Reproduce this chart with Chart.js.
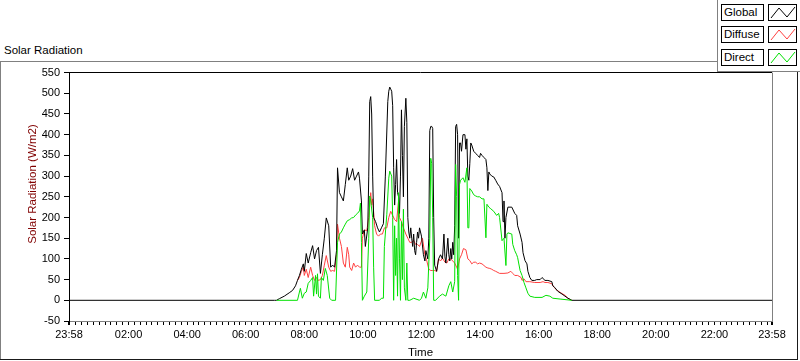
<!DOCTYPE html>
<html>
<head>
<meta charset="utf-8">
<script src="https://cdn.jsdelivr.net/npm/chart.js@4.4.1/dist/chart.umd.min.js"></script>
<style>
html,body{margin:0;padding:0;background:#fff;width:800px;height:361px;overflow:hidden;font-family:"Liberation Sans",Arial,sans-serif;}
#wrap{position:absolute;left:0;top:62px;width:800px;height:298px;z-index:1;}
.ln{position:absolute;z-index:2;}
#panel{position:absolute;left:717px;top:0;width:83px;height:72px;background:#fff;border-left:1px solid #808080;border-bottom:1px solid #808080;box-sizing:border-box;z-index:3;}
.lbl{position:absolute;left:721px;width:43px;height:17px;border:1px solid #000;box-sizing:border-box;font-size:11.5px;line-height:15px;padding-left:2px;color:#000;z-index:4;background:#fff;}
.ico{position:absolute;left:768px;width:29px;height:17px;border:1px solid #000;box-sizing:border-box;z-index:4;background:#fff;}
.ico svg{position:absolute;left:0;top:0;}
#title{position:absolute;left:4px;top:43px;font-size:11.5px;line-height:14px;color:#000;z-index:2;}
#ytitle{position:absolute;left:-68.5px;top:176.5px;width:200px;height:14px;line-height:14px;text-align:center;font-size:11.5px;color:#800000;transform:rotate(-90deg);transform-origin:100px 7px;z-index:2;}
</style>
</head>
<body>
<div id="title">Solar Radiation</div>
<div class="ln" style="left:0;top:61px;width:717px;height:1px;background:#808080;"></div>
<div class="ln" style="left:0;top:61px;width:1px;height:298px;background:#808080;"></div>
<div class="ln" style="left:0;top:359px;width:798px;height:1px;background:#1a1a1a;"></div>
<div class="ln" style="left:797px;top:72px;width:1px;height:288px;background:#1a1a1a;"></div>
<div id="panel"></div>
<div class="lbl" style="top:4px;">Global</div>
<div class="ico" style="top:4px;"><svg width="27" height="15"><polyline points="2,13 10,3 18,12 26,2" fill="none" stroke="#000" stroke-width="1"/></svg></div>
<div class="lbl" style="top:26px;">Diffuse</div>
<div class="ico" style="top:26px;"><svg width="27" height="15"><polyline points="2,13 10,3 18,12 26,2" fill="none" stroke="#ff4040" stroke-width="1"/></svg></div>
<div class="lbl" style="top:49px;">Direct</div>
<div class="ico" style="top:49px;"><svg width="27" height="15"><polyline points="2,13 10,3 18,12 26,2" fill="none" stroke="#00e000" stroke-width="1"/></svg></div>
<div id="ytitle">Solar Radiation (W/m2)</div>
<div id="wrap"><canvas id="c" width="800" height="298"></canvas></div>
<script>
// ---- data (time in minutes of the day, values in W/m2) ----
const globalTimes = [
-2,419,423,429,439,449,456,462,466,470,
474,478,480,484,488,493,497,501,505,509,
513,517,521,525,530,534,538,542,546,548,
552,556,560,564,568,571,575,579,583,587,
591,593,597,599,603,605,610,612,614,616,
618,620,622,626,630,634,638,642,646,651,
653,655,657,659,661,663,665,667,669,671,
673,675,677,679,681,683,685,688,690,692,
694,696,698,700,702,704,706,708,710,712,
714,716,720,724,727,729,733,735,737,739,
741,743,745,747,751,755,759,763,766,768,
770,774,776,778,780,782,784,786,788,790,
792,794,796,798,800,802,805,809,811,813,
815,817,819,821,823,827,831,835,839,841,
844,848,852,854,856,858,860,864,868,872,
876,880,885,887,889,891,893,897,905,911,
915,917,922,926,928,932,936,938,942,946,
952,956,963,967,973,979,987,989,993,999,
1008,1014,1020,1028,1438];
const globalValues = [
0,0,0,4,10,18,24,35,48,60,
75,88,70,113,90,115,132,100,120,128,
65,110,150,199,180,80,85,80,120,320,
260,250,240,280,320,290,300,318,290,300,
310,295,240,160,170,130,175,300,480,492,
450,300,200,190,175,165,175,185,300,480,
505,515,510,505,470,320,230,280,340,260,
250,210,300,460,350,250,420,488,430,200,
165,150,175,150,130,160,120,110,140,165,
150,175,155,110,95,120,100,150,410,420,
420,415,200,85,70,100,110,100,160,105,
90,150,110,95,125,100,140,110,180,420,
425,400,150,380,380,360,400,400,365,390,
300,290,330,380,375,360,355,350,345,355,
350,345,340,320,265,310,305,300,298,290,
281,275,260,190,240,150,200,225,225,210,
205,180,160,140,115,96,88,70,55,48,
48,50,50,55,48,48,45,35,31,22,
15,10,5,0,0];

const diffuseTimes = [
466,470,
474,478,480,484,488,493,497,501,505,509,
513,517,521,525,530,534,538,542,546,548,
552,556,560,564,568,571,573,577,581,585,
589,593,597,599,603,608,612,616,618,620,
624,628,632,636,640,644,649,653,657,661,
665,669,673,675,679,683,688,692,696,700,
704,708,712,716,722,727,731,735,739,743,
747,751,755,759,763,768,772,776,780,784,
788,792,794,798,802,806,811,815,819,823,
827,831,835,839,844,848,852,856,860,864,
868,872,880,889,897,903,907,911,917,924,
926,930,934,942,952,963,969,973,979,987,
991,997,1004,1014,1020,1028];
const diffuseValues = [
48,55,
70,80,60,75,55,80,60,48,55,48,
50,60,85,108,80,70,72,70,110,184,
150,130,90,80,128,110,80,72,90,80,
85,80,80,150,170,168,200,260,230,245,
180,160,155,160,160,175,175,200,215,205,
195,190,240,200,190,175,160,150,140,140,
145,135,135,130,150,110,95,75,72,72,
72,70,100,95,102,92,90,100,100,95,
90,80,75,100,110,125,122,100,96,88,
92,92,88,90,88,84,80,78,77,75,
72,70,65,65,66,70,65,60,60,55,
48,52,45,45,43,43,45,43,43,40,
32,25,19,12,5,0];

const directTimes = [
423,466,470,472,476,480,484,488,493,497,
499,503,505,507,509,513,515,519,523,527,
532,536,544,548,552,556,560,564,568,573,
577,581,585,589,593,595,597,599,603,608,
612,614,616,620,622,624,634,638,642,644,
649,653,655,659,661,663,665,667,669,671,
673,675,677,679,681,683,685,688,690,692,
696,704,716,720,724,729,733,737,739,741,
743,745,749,757,763,770,776,780,784,788,
790,792,794,796,798,800,805,809,813,815,
817,819,823,827,831,835,839,844,848,852,
854,858,862,868,874,878,880,885,889,893,
895,897,905,907,911,915,917,922,926,930,
934,938,942,952,967,975,983,989,1004,1028];
const directValues = [
0,0,20,29,5,17,20,41,48,55,
10,60,15,64,10,5,55,48,77,60,
5,0,0,140,160,165,175,184,192,195,
199,200,206,210,216,235,140,0,10,20,
150,252,240,200,80,0,0,5,5,130,
208,295,312,300,200,0,180,60,150,10,
260,100,0,190,50,220,30,0,90,0,
0,5,0,5,20,5,30,150,343,330,
200,0,0,10,15,10,35,45,20,45,
328,250,60,0,280,290,296,285,320,175,
175,270,264,255,252,250,250,245,245,151,
232,225,221,215,205,210,200,144,150,84,
160,163,160,135,120,110,103,72,60,43,
30,17,10,7,7,12,10,5,3,0];

// ---- axes ----
const xLabelMinutes = [-2,120,240,360,480,600,720,840,960,1080,1200,1320,1438];
const xTickLabels = ['23:58','02:00','04:00','06:00','08:00','10:00','12:00','14:00','16:00','18:00','20:00','22:00','23:58'];
const yMin = -50, yMax = 550, yStep = 50;

const FONT = '"Liberation Sans", Arial, sans-serif';
const minorStep = 12;
const xTickValues = (() => {
  const s = new Set(xLabelMinutes);
  for (let m = minorStep; m < xLabelMinutes[xLabelMinutes.length - 1]; m += minorStep) s.add(m);
  return Array.from(s).sort((a, b) => a - b);
})();

const toPoints = (times, vals) => times.map((t, i) => ({x: t, y: vals[i]}));

const framePlugin = {
  id: 'frame',
  afterDraw(chart) {
    const {ctx, chartArea: a} = chart;
    ctx.save();
    ctx.lineWidth = 1;
    ctx.strokeStyle = '#000';
    ctx.beginPath();
    ctx.moveTo(Math.round(a.left), Math.round(a.top) - 0.5);
    ctx.lineTo(Math.round(a.right), Math.round(a.top) - 0.5);
    ctx.stroke();
    ctx.strokeStyle = '#808080';
    ctx.beginPath();
    ctx.moveTo(Math.round(a.right) + 0.5, a.top);
    ctx.lineTo(Math.round(a.right) + 0.5, a.bottom);
    ctx.stroke();
    ctx.restore();
  }
};

new Chart(document.getElementById('c'), {
  type: 'line',
  data: {
    datasets: [
      {label: 'Global', data: toPoints(globalTimes, globalValues), borderColor: '#000000', borderWidth: 1, pointRadius: 0, order: 1},
      {label: 'Diffuse', data: toPoints(diffuseTimes, diffuseValues), borderColor: '#ff4040', borderWidth: 1, pointRadius: 0, order: 2},
      {label: 'Direct', data: toPoints(directTimes, directValues), borderColor: '#00e000', borderWidth: 1, pointRadius: 0, order: 0}
    ]
  },
  options: {
    responsive: false,
    animation: false,
    devicePixelRatio: 1,
    layout: {padding: {left: 0, top: 9, right: 28, bottom: 0}},
    elements: {line: {tension: 0}},
    plugins: {legend: {display: false}, tooltip: {enabled: false}},
    scales: {
      x: {
        type: 'linear',
        min: xLabelMinutes[0],
        max: xLabelMinutes[xLabelMinutes.length - 1],
        afterBuildTicks(scale) { scale.ticks = xTickValues.map(v => ({value: v})); },
        afterFit(scale) { scale.height = 39; },
        ticks: {
          autoSkip: false, maxRotation: 0, minRotation: 0, color: '#000', padding: 3,
          font: {family: FONT, size: 11},
          callback(v) { const i = xLabelMinutes.indexOf(v); return i >= 0 ? xTickLabels[i] : ''; }
        },
        grid: {
          drawOnChartArea: false, drawTicks: true, tickLength: 4, color: '#000',
          lineWidth: (c) => (c.tick && (c.tick.value === xLabelMinutes[0] || c.tick.value === xLabelMinutes[xLabelMinutes.length - 1])) ? 2 : 1
        },
        border: {display: true, color: '#808080', width: 1},
        title: {display: true, text: 'Time', color: '#000', font: {family: FONT, size: 11.5}, padding: {top: 0, bottom: 0}}
      },
      y: {
        min: yMin, max: yMax,
        afterFit(scale) { scale.width = 69; },
        ticks: {stepSize: yStep, color: '#000', padding: 4, font: {family: FONT, size: 11}},
        grid: {drawOnChartArea: false, drawTicks: true, tickLength: 5, color: '#000'},
        border: {display: true, color: '#000', width: 1}
      }
    }
  },
  plugins: [framePlugin]
});
</script>
</body>
</html>
